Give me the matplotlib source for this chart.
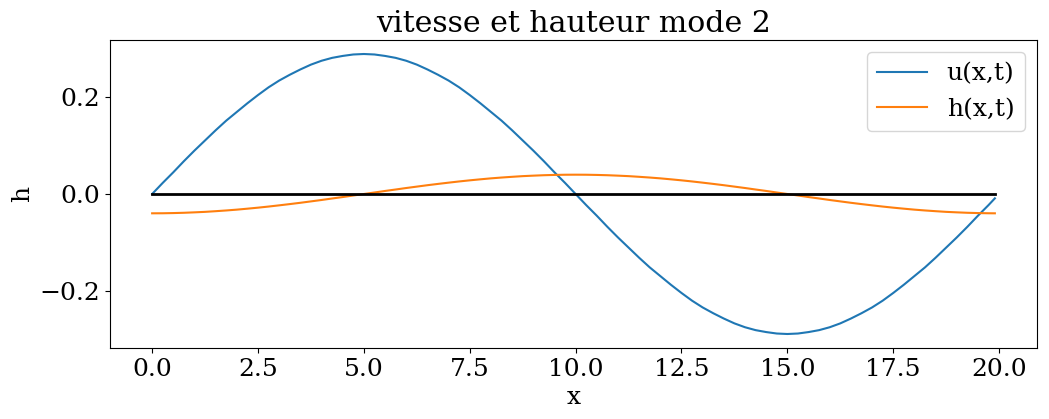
import numpy as np
import matplotlib.pyplot as plt

plt.rcParams['font.family'] = 'DejaVu Serif'
plt.rcParams['font.size'] = 18

# valeurs (pas de 0.25, dernier point x = 19.9)
x = list(np.arange(0, 20, 0.25)) + [19.9]
u = [0.000, 0.023, 0.045, 0.068, 0.090, 0.111, 0.132, 0.152, 0.170, 0.188, 0.205,
     0.221, 0.235, 0.247, 0.258, 0.268, 0.276, 0.282, 0.286, 0.289, 0.290,
     0.289, 0.286, 0.282, 0.276, 0.268, 0.258, 0.247, 0.235, 0.221, 0.205,
     0.188, 0.170, 0.152, 0.132, 0.111, 0.090, 0.068, 0.045, 0.023, 0.000,
     -0.023, -0.045, -0.068, -0.090, -0.111, -0.132, -0.152, -0.170, -0.188, -0.205,
     -0.221, -0.235, -0.247, -0.258, -0.268, -0.276, -0.282, -0.286, -0.289, -0.290,
     -0.289, -0.286, -0.282, -0.276, -0.268, -0.258, -0.247, -0.235, -0.221, -0.205,
     -0.188, -0.170, -0.152, -0.132, -0.111, -0.090, -0.068, -0.045, -0.023, -0.009]
h = [-0.0400, -0.0399, -0.0395, -0.0389, -0.0380, -0.0370, -0.0356, -0.0341, -0.0324, -0.0304, -0.0283,
     -0.0260, -0.0235, -0.0209, -0.0182, -0.0153, -0.0124, -0.0093, -0.0063, -0.0031, 0.0,
     0.0031, 0.0063, 0.0093, 0.0124, 0.0153, 0.0182, 0.0209, 0.0235, 0.0260, 0.0283,
     0.0304, 0.0324, 0.0341, 0.0356, 0.0370, 0.0380, 0.0389, 0.0395, 0.0399, 0.0400,
     0.0399, 0.0395, 0.0389, 0.0380, 0.0370, 0.0356, 0.0341, 0.0324, 0.0304, 0.0283,
     0.0260, 0.0235, 0.0209, 0.0182, 0.0153, 0.0124, 0.0093, 0.0063, 0.0031, 0.0,
     -0.0031, -0.0063, -0.0093, -0.0124, -0.0153, -0.0182, -0.0209, -0.0235, -0.0260, -0.0283,
     -0.0304, -0.0324, -0.0341, -0.0356, -0.0370, -0.0380, -0.0389, -0.0395, -0.0399, -0.0400]
zero = [0.0] * len(x)

fig = plt.figure(figsize=(10.49, 4.19), dpi=100)
ax = fig.add_axes([110/1049, 1 - 348/419, 927/1049, 308/419])
ax.plot(x, u, label='u(x,t)')
ax.plot(x, h, label='h(x,t)')
ax.plot(x, zero, color='black', linewidth=2)
ax.set_title('vitesse et hauteur mode 2')
ax.set_xlabel('x')
ax.set_ylabel('h')
ax.legend(loc='upper right')
fig.savefig('out.png', dpi=100)
